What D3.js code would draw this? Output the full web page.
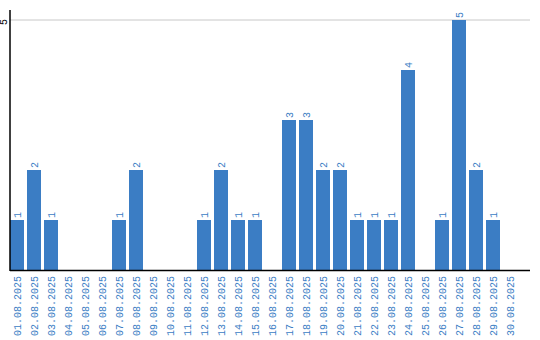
<!DOCTYPE html>
<html>
<head>
<meta charset="utf-8">
<script src="https://cdn.jsdelivr.net/npm/d3@7"></script>
<style>
  body { margin: 0; background: #fff; }
  text { font-family: "Liberation Mono", "DejaVu Sans Mono", monospace; }
</style>
</head>
<body>
<div id="chart"></div>
<script>
// data
var days = ['01.08.2025','02.08.2025','03.08.2025','04.08.2025','05.08.2025',
            '06.08.2025','07.08.2025','08.08.2025','09.08.2025','10.08.2025',
            '11.08.2025','12.08.2025','13.08.2025','14.08.2025','15.08.2025',
            '16.08.2025','17.08.2025','18.08.2025','19.08.2025','20.08.2025',
            '21.08.2025','22.08.2025','23.08.2025','24.08.2025','25.08.2025',
            '26.08.2025','27.08.2025','28.08.2025','29.08.2025','30.08.2025'];
var counts = [1,2,1,0,0,0,1,2,0,0,0,1,2,1,1,0,3,3,2,2,1,1,1,4,0,1,5,2,1,0];
var yTicks = [5];

var width = 540, height = 340;
var blue = "#3b7dc4";

var svg = d3.select("#chart")
            .append("svg")
            .attr("width", width)
            .attr("height", height);

var xScale = d3.scaleBand().domain(days).range([10, 517]).paddingInner(3/17).paddingOuter(0),
    yScale = d3.scaleLinear().domain([0, 5]).range([270, 20]);

// gridline
svg.selectAll(".grid")
   .data(yTicks)
   .enter().append("line")
   .attr("x1", 10).attr("x2", 530)
   .attr("y1", function(d) { return yScale(d); })
   .attr("y2", function(d) { return yScale(d); })
   .attr("stroke", "#c8c8c8")
   .attr("stroke-width", 1);

svg.selectAll(".ytick")
   .data(yTicks)
   .enter().append("text")
   .attr("transform", function(d) { return "translate(7," + (yScale(d) + 2) + ") rotate(-90)"; })
   .attr("text-anchor", "middle")
   .attr("font-size", "10px")
   .attr("fill", "#000")
   .text(function(d) { return d; });

// bars
svg.selectAll(".bar")
   .data(counts)
   .enter().append("rect")
   .attr("class", "bar")
   .attr("x", function(d, i) { return xScale(days[i]); })
   .attr("y", function(d) { return yScale(d); })
   .attr("width", xScale.bandwidth())
   .attr("height", function(d) { return yScale(0) - yScale(d); })
   .attr("fill", blue);

// value labels (only for non-zero bars)
counts.forEach(function(d, i) {
    if (d <= 0) return;
    var cx = xScale(days[i]) + xScale.bandwidth() / 2;
    svg.append("text")
       .attr("transform", "translate(" + (cx + 3.5) + "," + (yScale(d) - 2) + ") rotate(-90)")
       .attr("text-anchor", "start")
       .attr("font-size", "10px")
       .attr("fill", blue)
       .text(d);
});

// x labels
svg.selectAll(".xlab")
   .data(days)
   .enter().append("text")
   .attr("transform", function(d) {
       return "translate(" + (xScale(d) + xScale.bandwidth() / 2 + 3.5) + ",276) rotate(-90)";
   })
   .attr("text-anchor", "end")
   .attr("font-size", "10px")
   .attr("fill", blue)
   .text(function(d) { return d; });

// axes lines
svg.append("line")
   .attr("x1", 10).attr("x2", 10)
   .attr("y1", 10).attr("y2", 271)
   .attr("stroke", "#000").attr("stroke-width", 1.5);

svg.append("line")
   .attr("x1", 10).attr("x2", 530)
   .attr("y1", 270.5).attr("y2", 270.5)
   .attr("stroke", "#000").attr("stroke-width", 1.5);
</script>
</body>
</html>
